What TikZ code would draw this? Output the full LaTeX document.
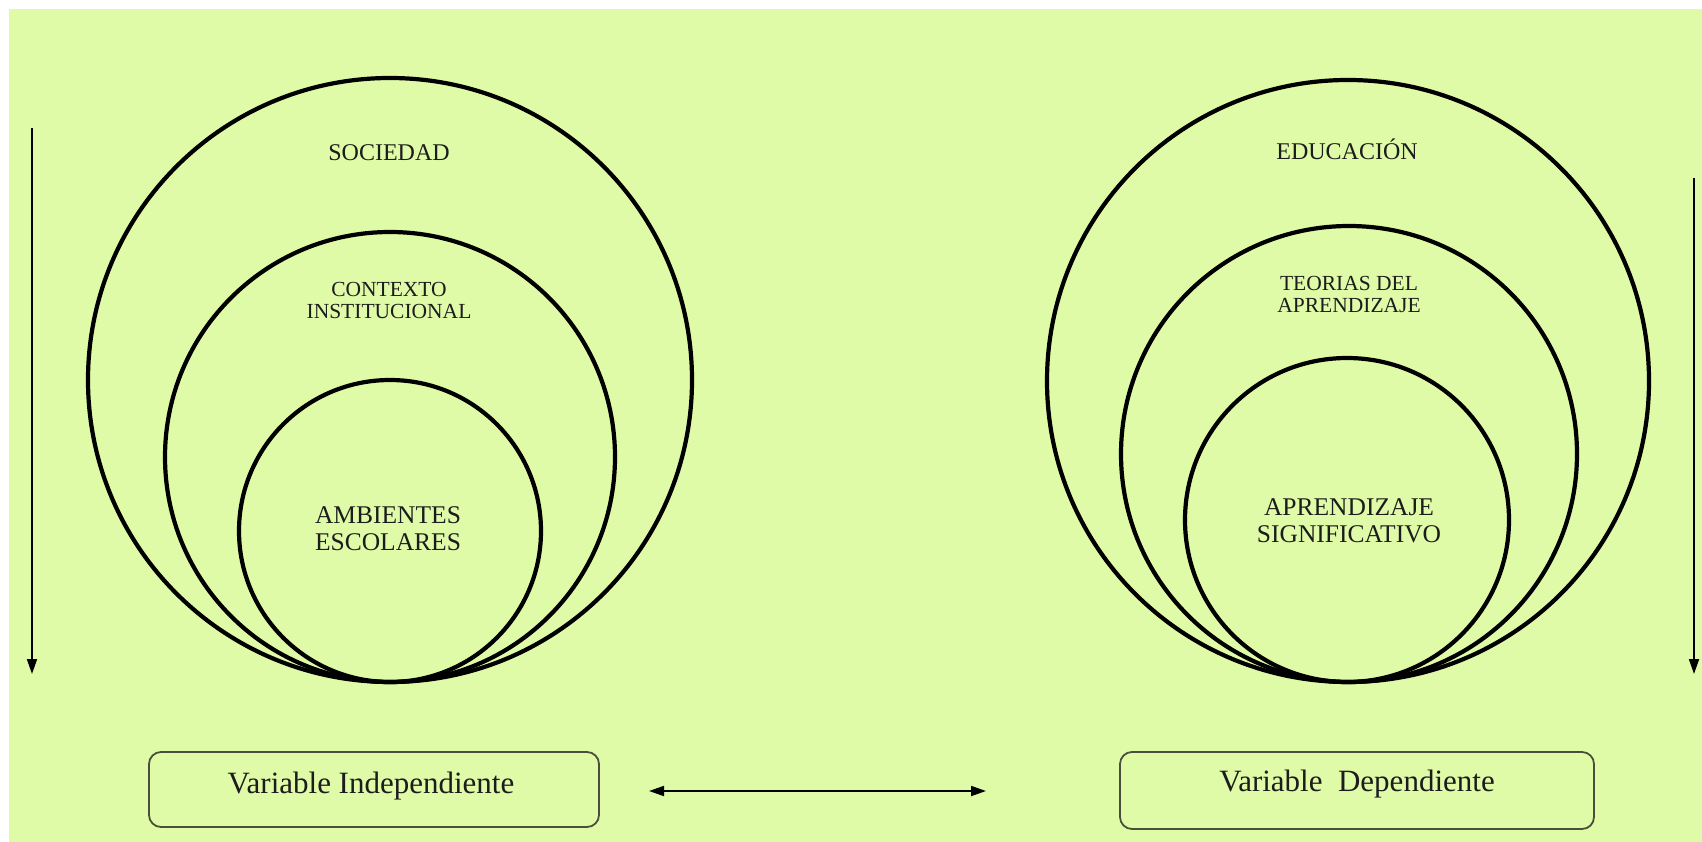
\documentclass[tikz,border=0pt]{standalone}
\usepackage{fontspec}
\setmainfont{Liberation Serif}
\usetikzlibrary{arrows.meta}
\definecolor{bggreen}{HTML}{E0FBA8}
\definecolor{inkc}{HTML}{1C1C1C}
\definecolor{boxline}{HTML}{4A4F3A}
\tikzset{
  ring/.style={draw=black, line width=4.2pt, circle, inner sep=0pt},
  lbl/.style={text=inkc, align=center, inner sep=0pt, font=\fontsize{24}{27}\selectfont},
  lblsmall/.style={lbl, font=\fontsize{21.5}{22}\selectfont},
  lblbig/.style={lbl, font=\fontsize{25.5}{27}\selectfont},
  varbox/.style={draw=boxline, line width=1.8pt, rounded corners=12pt, inner sep=0pt},
  varlbl/.style={text=inkc, inner sep=0pt, font=\fontsize{31}{32}\selectfont},
  arr/.style={draw=black, line width=1.8pt, -{Triangle[length=15pt,width=10pt]}},
  darr/.style={draw=black, line width=1.8pt, {Triangle[length=15pt,width=10pt]}-{Triangle[length=15pt,width=10pt]}}
}
\begin{document}
\begin{tikzpicture}[x=1pt,y=-1pt]
\useasboundingbox (0,0) rectangle (1702,842);
\fill[white] (0,0) rectangle (1702,842);
\fill[bggreen] (9,9) rectangle (1702,842);

% left circles
\node[ring, minimum size=604pt] (sociedad) at (390,380) {};
\node[ring, minimum size=450pt] (contexto) at (390,457) {};
\node[ring, minimum size=302pt] (ambientes) at (390,531) {};
\node[lbl] (tsoc) at (389,153) {SOCIEDAD};
\node[lblsmall] (tcon) at (389,300) {CONTEXTO\\INSTITUCIONAL};
\node[lblbig] (tamb) at (388,529) {AMBIENTES\\ESCOLARES};

% right circles
\node[ring, minimum size=602pt] (educacion) at (1348,381) {};
\node[ring, minimum size=456pt] (teorias) at (1349,454) {};
\node[ring, minimum size=324pt] (aprendizaje) at (1347,520) {};
\node[lbl] (tedu) at (1347,149) {EDUCACIÓN};
\node[lblsmall] (tteo) at (1349,294) {TEORIAS DEL\\APRENDIZAJE};
\node[lblbig] (tapr) at (1349,521) {APRENDIZAJE\\SIGNIFICATIVO};

% vertical arrows
\coordinate (la1) at (32,128);
\coordinate (la2) at (32,674);
\coordinate (ra1) at (1694,178);
\coordinate (ra2) at (1694,674);
\draw[arr] (la1) -- (la2);
\draw[arr] (ra1) -- (ra2);

% bottom boxes
\node[varbox, minimum width=450pt, minimum height=75pt] (vind) at (374,789.5) {};
\node[varbox, minimum width=474pt, minimum height=77pt] (vdep) at (1357,790.5) {};
\node[varlbl] (tind) at (371,786) {Variable Independiente};
\node[varlbl] (tdep) at (1357,784) {Variable\ \ Dependiente};

% double arrow
\coordinate (da1) at (649,791);
\coordinate (da2) at (986,791);
\draw[darr] (da1) -- (da2);
\end{tikzpicture}
\end{document}
